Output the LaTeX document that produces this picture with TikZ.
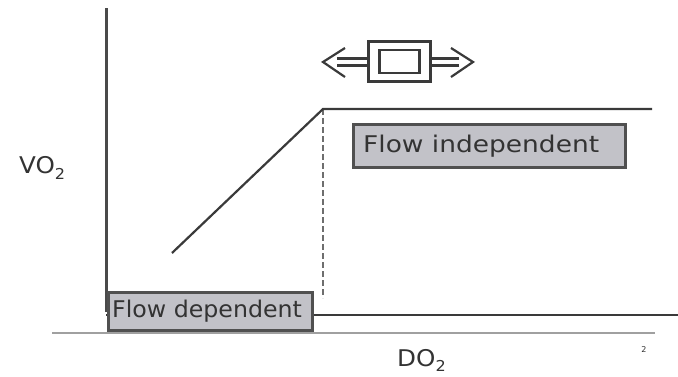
\documentclass[tikz,border=0pt]{standalone}
\usepackage{fontspec}
\setmainfont{DejaVu Sans}
\newfontfamily\widefont[FakeStretch=1.15]{DejaVu Sans}
\newfontfamily\narrowfont[FakeStretch=1.03]{DejaVu Sans}
\newfontfamily\axisfont[FakeStretch=1.07]{DejaVu Sans}
\definecolor{axisgray}{HTML}{4A4A4A}
\definecolor{curvegray}{HTML}{3A3A3A}
\definecolor{basegray}{HTML}{A0A0A0}
\definecolor{guidegray}{HTML}{6E6E6E}
\definecolor{boxfill}{HTML}{C2C2C8}
\definecolor{boxline}{HTML}{505050}
\definecolor{textgray}{HTML}{333333}
\newcommand{\titlefont}{\axisfont\fontsize{23}{26}\selectfont}
\newcommand{\subfont}{\axisfont\fontsize{15}{16}\selectfont}
\begin{document}
\begin{tikzpicture}[x=1pt,y=-1pt,
  axisline/.style={draw=axisgray,line width=3pt},
  curveline/.style={draw=curvegray,line width=2.2pt},
  baseline/.style={draw=basegray,line width=1.6pt},
  guide/.style={draw=guidegray,line width=2.6pt,dash pattern=on 6pt off 3pt},
  regionbox/.style={draw=boxline,fill=boxfill,line width=3pt,rectangle,
    inner sep=0pt,anchor=north west},
  boxtext/.style={anchor=west,inner sep=0pt,text=textgray},
  axislabel/.style={text=textgray,font=\titlefont,inner sep=0pt,anchor=base west},
  glyph/.style={draw=curvegray,line width=2.2pt,line join=miter},
]
\useasboundingbox (0,0) rectangle (678,376);
\fill[white] (0,0) rectangle (678,376);

% axes
\coordinate (ytop) at (106,8);
\coordinate (ybot) at (106,312);
\coordinate (xleft) at (52,333);
\coordinate (xright) at (655,333);
\draw[axisline] (ytop) -- (ybot);
\draw[baseline] (xleft) -- (xright);

% low plateau line
\coordinate (lowstart) at (106,315);
\coordinate (lowend) at (678,315);
\draw[curveline] (lowstart) -- (lowend);

% supply dependent ramp and independent plateau
\coordinate (rampstart) at (172,253);
\coordinate (crit) at (323,109);
\coordinate (plateauend) at (652,109);
\coordinate (critfoot) at (323,298);
\draw[guide] (crit) -- (critfoot);
\draw[curveline,line join=miter] (rampstart) -- (crit) -- (plateauend);

% region labels
\node[regionbox,minimum width=204pt,minimum height=38pt] (dep) at (107,291) {};
\node[boxtext,font=\narrowfont\fontsize{23}{26}\selectfont] (deptext) at ([xshift=5pt]dep.west) {Flow dependent};
\node[regionbox,minimum width=272pt,minimum height=43pt] (indep) at (352,123) {};
\node[boxtext,font=\widefont\fontsize{23}{26}\selectfont] (indeptext) at ([xshift=11pt]indep.west) {Flow independent};

% axis titles
\node[axislabel] (vo2) at (19,173) {VO\raisebox{-6pt}{\subfont 2}};
\node[axislabel] (do2) at (397,366) {DO\raisebox{-5pt}{\subfont 2}};
\node[text=textgray,font=\fontsize{8}{9}\selectfont,inner sep=0pt] (pagenum) at (644,350) {2};

% two-way flow symbol
\node[draw=curvegray,line width=2.2pt,minimum width=62pt,minimum height=40pt,inner sep=0pt] (outerbox) at (399.5,61.5) {};
\node[draw=curvegray,line width=2.2pt,minimum width=40pt,minimum height=23pt,inner sep=0pt] (innerbox) at (outerbox.center) {};
\coordinate (ltip) at (323,62);
\coordinate (rtip) at (473,62);
\draw[glyph] (345,48) -- (ltip) -- (345,77);
\draw[glyph] (337,58.5) -- (outerbox.west |- 0,58.5);
\draw[glyph] (337,65.5) -- (outerbox.west |- 0,65.5);
\draw[glyph] (451,48) -- (rtip) -- (451,77);
\draw[glyph] (459,58.5) -- (outerbox.east |- 0,58.5);
\draw[glyph] (459,65.5) -- (outerbox.east |- 0,65.5);
\end{tikzpicture}
\end{document}
